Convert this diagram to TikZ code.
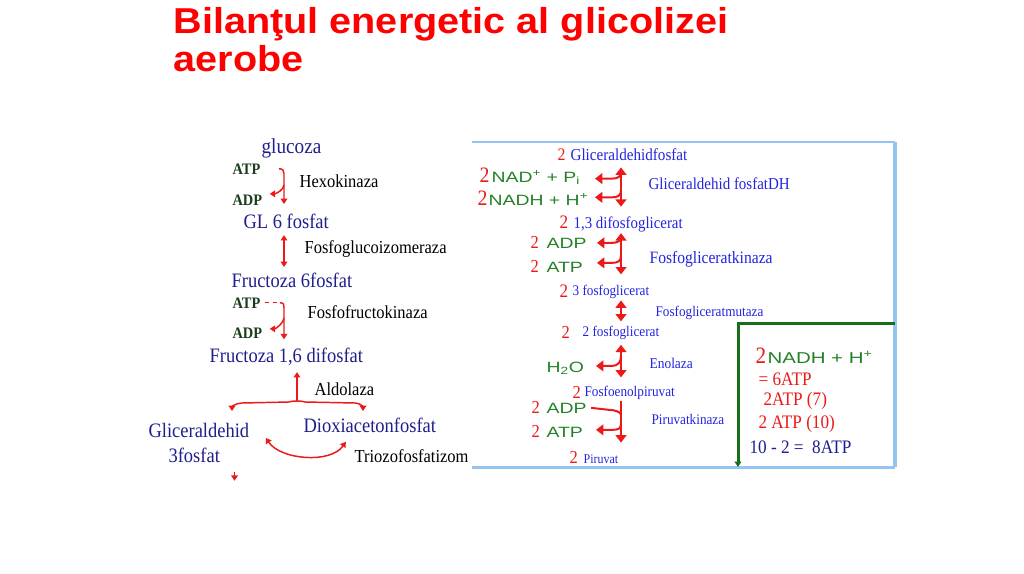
\documentclass[tikz,border=0pt]{standalone}
\usepackage{fontspec}
\setmainfont[FakeStretch=0.9]{Liberation Serif}
\newfontfamily\titlefont[FakeStretch=1.1]{Liberation Sans}
\newfontfamily\cofont[FakeStretch=1.3]{Liberation Sans}
\usetikzlibrary{arrows.meta,calc}

\newcommand\fsz[1]{\fontsize{#1}{#1}\selectfont}

\definecolor{rred}{RGB}{235,25,25}
\definecolor{lnavy}{RGB}{30,30,140}
\definecolor{rblue}{RGB}{35,35,225}
\definecolor{lcofc}{RGB}{25,60,25}
\definecolor{rgreen}{RGB}{35,130,40}
\definecolor{gline}{RGB}{25,110,25}
\definecolor{frame}{RGB}{150,195,240}

\tikzset{
lbl/.style={inner sep=1pt, anchor=base west},
title/.style={lbl, text=red, font=\titlefont\bfseries\fsz{27}},
lsub/.style={lbl, text=lnavy, font=\fsz{15.4}},
lenz/.style={lbl, text=black, font=\fsz{13.75}},
lcof/.style={lbl, text=lcofc, font=\bfseries\fsz{12}},
rsub/.style={lbl, text=rblue},
rnum/.style={lbl, text=rred},
rcof/.style={lbl, text=rgreen, font=\cofont\fsz{11.2}},
larr/.style={draw=rred, line width=1.1pt, >={Triangle[width=5pt,length=4pt]}},
rarr/.style={draw=rred, line width=1.5pt, >={Triangle[width=8pt,length=5.5pt]}},
panel/.style={draw=frame},
sumline/.style={draw=gline, line width=2.25pt, >={Triangle[width=5pt,length=4pt]}},
}

\begin{document}
\begin{tikzpicture}[x=0.75pt,y=-0.75pt]
\useasboundingbox (0,0) rectangle (1024,574);

% title
\node[title] (t1) at (172,34) {Bilanţul energetic al glicolizei};
\node[title] (t2) at (172,72) {aerobe};

% left panel
\coordinate (lx) at (284,0);
\coordinate (lx2) at (297,0);
\node[lsub, font=\fsz{16}] (glu) at (260,154) {glucoza};
\node[lcof] (atp1) at (231,175) {ATP};
\node[lcof] (adp1) at (231,205) {ADP};
\node[lenz] (hex) at (298,188) {Hexokinaza};
\node[lsub] (g6p) at (242,228) {GL 6 fosfat};
\node[lenz] (pgi) at (303,253) {Fosfoglucoizomeraza};
\node[lsub] (f6p) at (230,287) {Fructoza 6fosfat};
\node[lcof] (atp2) at (231,308) {ATP};
\node[lcof] (adp2) at (231,338) {ADP};
\node[lenz] (pfk) at (306,318) {Fosfofructokinaza};
\node[lsub] (fbp) at (208,362) {Fructoza 1,6 difosfat};
\node[lenz] (ald) at (313,395) {Aldolaza};
\node[lsub] (gap1) at (147,437) {Gliceraldehid};
\node[lsub] (gap2) at (167,462) {3fosfat};
\node[lsub] (dhap) at (302,432) {Dioxiacetonfosfat};
\node[lenz] (tpi) at (353,462) {Triozofosfatizom};

% hexokinaza
\draw[larr,->,shorten >=6pt] ($(atp1.east)+(17,-1)$) .. controls +(4,0) and +(0,-3) .. ($(lx |- atp1.east)+(0,4)$) -- (lx |- g6p.north);
\draw[larr,->] ($(lx |- adp1.north)+(0,-8)$) .. controls +(0,5) and +(6,0) .. ($(adp1.north east)+(6,1)$);
% izomeraza
\draw[larr,<->,shorten <=4pt,shorten >=3pt] (lx |- g6p.south) -- (lx |- f6p.north);
% fosfofructokinaza
\draw[larr,dashed] ($(atp2.east)+(3,0)$) -- ++(15,0);
\draw[larr,->,shorten >=5pt] ($(atp2.east)+(18,0)$) .. controls +(4,0) and +(0,-3) .. ($(lx |- atp2.east)+(0,5)$) -- (lx |- fbp.north);
\draw[larr,->] ($(lx |- adp2.north)+(0,-8)$) .. controls +(0,5) and +(6,0) .. ($(adp2.north east)+(6,3)$);
% aldolaza
\coordinate (split) at (297,401);
\draw[larr,->,shorten >=4pt] (split) -- (lx2 |- fbp.south);
\draw[larr,->] (split) .. controls +(-3,0) and +(4,-1) .. ++(-8,1) -- ++(-47,1) .. controls +(-6,0) and +(0,-4) .. ++(-10,8);
\draw[larr,->] (split) .. controls +(3,0) and +(-4,-1) .. ++(8,1) -- ++(50,1) .. controls +(5,0) and +(0,-4) .. ++(8,8);
% triozofosfatizomeraza
\draw[larr,<->] ($(gap1.east)+(15,8)$) .. controls +(15,22) and +(-15,22) .. ($(dhap.south)+(-24,8)$);
\draw[larr,->] ($(gap2.south east)+(13,8)$) -- ++(0,9);

% right panel
\coordinate (fTL) at (472,142);
\coordinate (fTR) at (895,142);
\coordinate (fBR) at (895,467);
\coordinate (fBL) at (472,467);
\draw[panel,line width=1.5pt] (fTL) -- (fTR);
\draw[panel,line width=3.2pt] (fTR) -- (fBR);
\draw[panel,line width=2.25pt] (fBL) -- (fBR);

\coordinate (rx) at (621,0);
\node[rnum, font=\fsz{13.2}] (n1) at (556,161) {2};
\node[rsub, font=\fsz{12.6}] (gapr) at (569,161) {Gliceraldehidfosfat};
\node[rnum, font=\fsz{16.5}] (nn1) at (478,182) {2};
\node[rcof] (nad) at (490,182) {NAD\textsuperscript{+} + P\textsubscript{i}};
\node[rnum, font=\fsz{16.5}] (nn2) at (476,205) {2};
\node[rcof] (nadh) at (487,205) {NADH + H\textsuperscript{+}};
\node[rsub, font=\fsz{12.5}] (gapdh) at (647,190) {Gliceraldehid fosfatDH};
\node[rnum, font=\fsz{14.3}] (n2) at (558,228) {2};
\node[rsub, font=\fsz{12.4}] (dpg) at (572,228) {1,3 difosfoglicerat};
\node[rnum, font=\fsz{13.75}] (n3) at (529,248) {2};
\node[rcof] (adp) at (545,248) {ADP};
\node[rnum, font=\fsz{13.75}] (n4) at (529,272) {2};
\node[rcof] (atp) at (545,272) {ATP};
\node[rsub, font=\fsz{13}] (pgk) at (648,263) {Fosfogliceratkinaza};
\node[rnum, font=\fsz{14.3}] (n5) at (558,297) {2};
\node[rsub, font=\fsz{11}] (pg3) at (571,295) {3 fosfoglicerat};
\node[rsub, font=\fsz{11}] (pgm) at (654,316) {Fosfogliceratmutaza};
\node[rnum, font=\fsz{13.75}] (n6) at (560,338) {2};
\node[rsub, font=\fsz{11}] (pg2) at (581,336) {2 fosfoglicerat};
\node[rcof] (h2o) at (545,372) {H\textsubscript{2}O};
\node[rsub, font=\fsz{11.2}] (eno) at (648,368) {Enolaza};
\node[rnum, font=\fsz{13.75}] (n7) at (571,398) {2};
\node[rsub, font=\fsz{11}] (pep) at (583,396) {Fosfoenolpiruvat};
\node[rnum, font=\fsz{13.75}] (n8) at (530,413) {2};
\node[rcof] (adp3) at (545,413) {ADP};
\node[rnum, font=\fsz{13.75}] (n9) at (530,437) {2};
\node[rcof] (atp3) at (545,437) {ATP};
\node[rsub, font=\fsz{11}] (pk) at (650,424) {Piruvatkinaza};
\node[rnum, font=\fsz{13.75}] (n10) at (568,463) {2};
\node[rsub, font=\fsz{10}] (pyr) at (582,463) {Piruvat};

% gliceraldehid fosfat DH
\draw[rarr,<->,shorten <=3.5pt,shorten >=6pt] (rx |- gapr.south) -- (rx |- dpg.north);
\draw[rarr,->] ($(rx |- nad.east)+(0,-6)$) .. controls +(0,5) and +(6,0) .. ($(rx |- nad.east)+(-9,1)$) -- ++(-17,0);
\draw[rarr,->] ($(rx |- nadh.east)+(0,-9)$) .. controls +(0,5) and +(6,0) .. ($(rx |- nadh.east)+(-9,-2)$) -- ++(-17,0);
% fosfogliceratkinaza
\draw[rarr,<->,shorten >=6.5pt] (rx |- dpg.south) -- (rx |- pg3.north);
\draw[rarr,->] ($(rx |- adp.east)+(0,-7)$) .. controls +(0,5) and +(6,0) .. ($(rx |- adp.east)+(-9,0)$) -- ++(-15,0);
\draw[rarr,->] ($(rx |- atp.east)+(0,-11)$) .. controls +(0,5) and +(6,0) .. ($(rx |- atp.east)+(-9,-4)$) -- ++(-15,0);
% fosfogliceratmutaza
\draw[rarr,<->,shorten <=0.5pt,shorten >=2pt] (rx |- pg3.south) -- (rx |- pg2.north);
% enolaza
\draw[rarr,<->,shorten <=3pt,shorten >=5pt] (rx |- pg2.south) -- (rx |- pep.north);
\draw[rarr,->] ($(rx |- h2o.east)+(0,-12)$) .. controls +(0,6) and +(6,0) .. ($(rx |- h2o.east)+(-9,-2)$) -- ++(-16,0);
% piruvatkinaza
\draw[rarr,->,shorten >=7.5pt] (rx |- pep.south) -- (rx |- pyr.north);
\draw[rarr] ($(adp3.east)+(3,0)$) -- ++(18,2) .. controls +(5,0) and +(0,-3) .. ($(rx |- adp3.east)+(0,7)$);
\draw[rarr,->] ($(rx |- atp3.east)+(0,-8)$) .. controls +(0,5) and +(6,0) .. ($(rx |- atp3.east)+(-9,-2)$) -- ++(-16,0);

% bilant
\coordinate (gr) at (895,323);
\coordinate (gc) at (738,323);
\coordinate (gb) at (738,467);
\draw[sumline,->] (gr) -- (gc) -- (gb);
\node[rnum, font=\fsz{17.6}] (bn) at (754,363) {2};
\node[rcof, font=\cofont\fsz{11.8}] (bnadh) at (766,363) {NADH + H\textsuperscript{+}};
\node[rnum, font=\fsz{14.3}] (b6) at (757,385) {= 6ATP};
\node[rnum, font=\fsz{14.3}] (b7) at (762,405) {2ATP (7)};
\node[rnum, font=\fsz{14.3}] (b10) at (757,428) {2 ATP (10)};
\node[lbl, text=lnavy, font=\fsz{14.3}] (btot) at (748,453) {10 - 2 =\ \ 8ATP};
\end{tikzpicture}
\end{document}
